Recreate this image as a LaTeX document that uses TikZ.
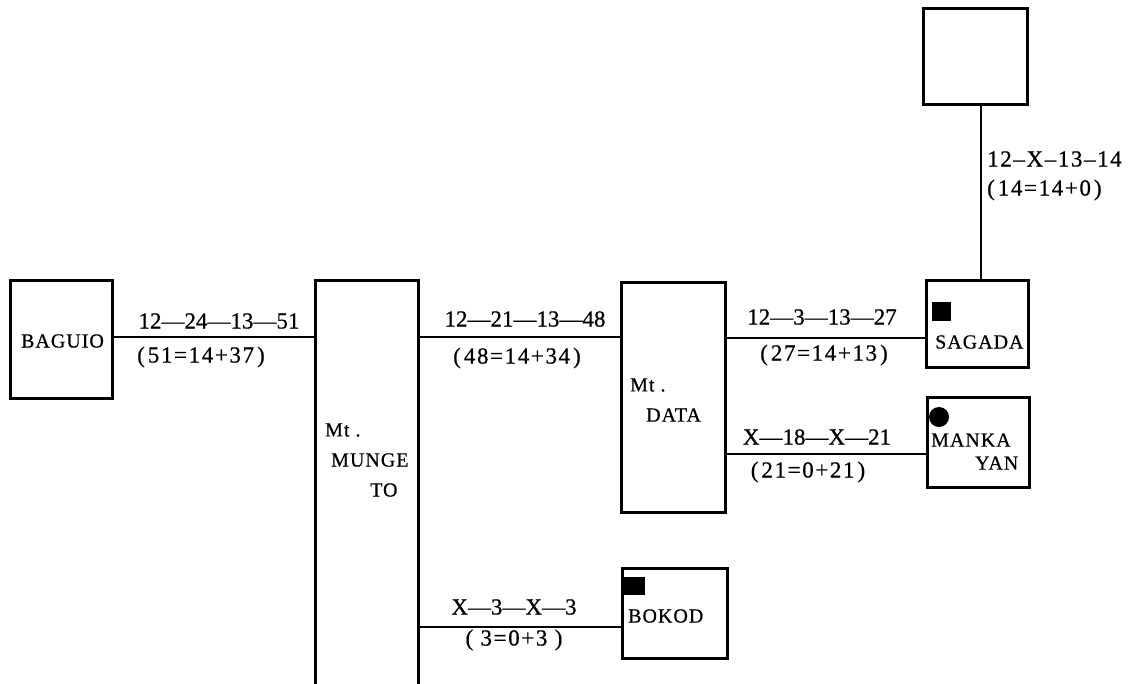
\documentclass[tikz,border=0pt]{standalone}
\usepackage{fontspec}
\setmainfont{Liberation Serif}
\newfontfamily\boxfont[LetterSpace=5,FakeBold=0.6]{Liberation Serif}
\newfontfamily\lbfont[FakeBold=0.6]{Liberation Serif}
\newfontfamily\pfont[LetterSpace=7,FakeBold=0.6]{Liberation Serif}
\newcommand\lpar{(\kern3pt}
\newcommand\rpar{\kern3pt)}
\tikzset{
  box/.style={draw, line width=3pt, inner sep=0pt, fill=none},
  conn/.style={line width=2.4pt},
  boxtext/.style={inner sep=0pt, font=\boxfont\fontsize{20}{22}\selectfont},
  lbl/.style={inner sep=0pt, font=\lbfont\fontsize{23}{25}\selectfont},
  plbl/.style={inner sep=0pt, font=\pfont\fontsize{23}{25}\selectfont},
  vlbl/.style={inner sep=0pt, anchor=west, font=\pfont\fontsize{23}{25}\selectfont},
  blackmark/.style={fill=black, draw=none, inner sep=0pt}
}
\begin{document}
\begin{tikzpicture}[x=1pt,y=-1pt]
\useasboundingbox (0,0) rectangle (1134,683);
\clip (0,0) rectangle (1134,683);
\fill[white] (0,0) rectangle (1134,683);

% boxes
\node[box, minimum width=104, minimum height=96] (top) at (975,56) {};
\node[box, minimum width=102, minimum height=118] (baguio) at (61,339) {};
\node[box, minimum width=103, minimum height=480] (munge) at (366.5,520) {};
\node[box, minimum width=104, minimum height=230] (data) at (673,397) {};
\node[box, minimum width=102, minimum height=87] (sagada) at (977,323.5) {};
\node[box, minimum width=102, minimum height=90] (mankayan) at (978,442) {};
\node[box, minimum width=105, minimum height=90] (bokod) at (674.5,613) {};

% texts in boxes
\node[boxtext] (tbaguio) at (62.5,341) {BAGUIO};
\node[boxtext, anchor=west] (tmt1) at (325,430) {Mt .};
\node[boxtext, anchor=west] (tmunge) at (331,460) {MUNGE};
\node[boxtext, anchor=west] (tto) at (370,490) {TO};
\node[boxtext, anchor=west] (tmt2) at (630,385) {Mt .};
\node[boxtext, anchor=west] (tdata) at (646,415) {DATA};
\node[boxtext, anchor=west] (tsagada) at (935,342) {SAGADA};
\node[boxtext, anchor=west] (tmanka) at (931,440) {MANKA};
\node[boxtext, anchor=west] (tyan) at (975,463) {YAN};
\node[boxtext, anchor=west] (tbokod) at (628,616) {BOKOD};

% markers
\node[blackmark, minimum width=19, minimum height=19] (msagada) at (941,311.5) {};
\node[blackmark, circle, minimum size=20] (mmanka) at (939,417) {};
\node[blackmark, minimum width=22, minimum height=18] (mbokod) at (633.5,586) {};

% connector reference levels
\coordinate (y1) at (0,337);
\coordinate (y2) at (0,338);
\coordinate (y3) at (0,454);
\coordinate (y4) at (0,627);
\coordinate (xv) at (981,0);

% connectors
\draw[conn] (baguio.east |- y1) -- (munge.west |- y1);
\draw[conn] (munge.east |- y1) -- (data.west |- y1);
\draw[conn] (data.east |- y2) -- (sagada.west |- y2);
\draw[conn] (data.east |- y3) -- (mankayan.west |- y3);
\draw[conn] (munge.east |- y4) -- (bokod.west |- y4);
\draw[conn] (xv |- top.south) -- (xv |- sagada.north);

% connector labels
\node[lbl] (l1a) at (219,321) {12—24—13—51};
\node[plbl] (l1b) at (201,357) {\lpar51=14+37\rpar};
\node[lbl] (l2a) at (525,319) {12—21—13—48};
\node[plbl] (l2b) at (517,358) {\lpar48=14+34\rpar};
\node[lbl] (l3a) at (822,317) {12—3—13—27};
\node[plbl] (l3b) at (824,355) {\lpar27=14+13\rpar};
\node[lbl] (l4a) at (817,437) {X—18—X—21};
\node[plbl] (l4b) at (808,472) {\lpar21=0+21\rpar};
\node[lbl] (l5a) at (514,607) {X—3—X—3};
\node[plbl] (l5b) at (514,640) {( 3=0+3 )};
\node[vlbl] (l6a) at (987,159) {12–X–13–14};
\node[vlbl] (l6b) at (987,190) {\lpar14=14+0\rpar};
\end{tikzpicture}
\end{document}
